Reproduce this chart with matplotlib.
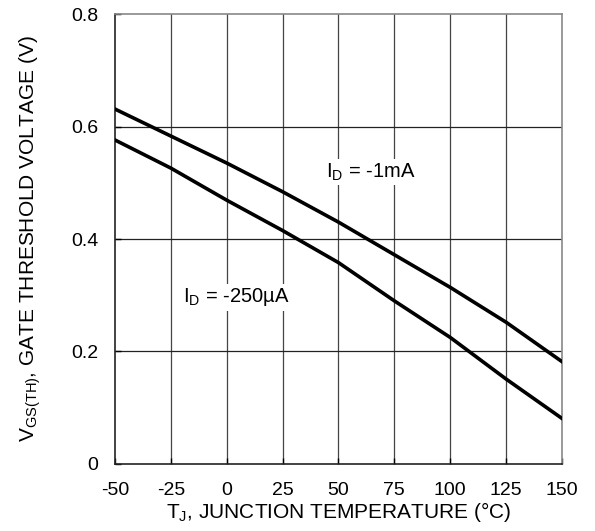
import numpy as np
import matplotlib.pyplot as plt

plt.rcParams['font.family'] = ['Liberation Sans', 'DejaVu Sans']
plt.rcParams['mathtext.fontset'] = 'custom'
plt.rcParams['mathtext.rm'] = 'Liberation Sans'
plt.rcParams['mathtext.it'] = 'Liberation Sans'
plt.rcParams['axes.unicode_minus'] = False

# junction temperature (C)
temp = [-50, -25, 0, 25, 50, 75, 100, 125, 150]
# threshold voltage (V)
vth_1ma = [0.631, 0.583, 0.535, 0.484, 0.430, 0.372, 0.314, 0.252, 0.182]
vth_250ua = [0.576, 0.526, 0.469, 0.415, 0.358, 0.290, 0.225, 0.151, 0.081]

xticks = [-50, -25, 0, 25, 50, 75, 100, 125, 150]
yticks = [0, 0.2, 0.4, 0.6, 0.8]
yticklabels = ["0", "0.2", "0.4", "0.6", "0.8"]

fig = plt.figure(figsize=(5.95, 5.31), dpi=100)
ax = fig.add_axes([0.1933, 0.1262, 0.7512, 0.8474])

for x in xticks[1:-1]:
    ax.axvline(x, color="#444444", lw=0.9, zorder=1)
for y in yticks[1:-1]:
    ax.axhline(y, color="#222222", lw=0.9, zorder=1)

ax.plot(temp, vth_1ma, color="black", lw=2.6, zorder=3, solid_joinstyle="round")
ax.plot(temp, vth_250ua, color="black", lw=2.6, zorder=3, solid_joinstyle="round")

box = dict(facecolor="white", edgecolor="none", pad=1.5)
ax.text(44.5, 0.519, r"I$_\mathrm{D}$ = -1mA", fontsize=14.5, va="center",
        ha="left", bbox=box, zorder=2)
ax.text(-19.5, 0.296, r"I$_\mathrm{D}$ = -250µA", fontsize=14.5, va="center",
        ha="left", bbox=box, zorder=2)

ax.set_xlim(-50, 150)
ax.set_ylim(0, 0.8)
ax.set_xticks(xticks)
ax.set_yticks(yticks)
ax.set_yticklabels(yticklabels)
ax.tick_params(direction="in", length=4, width=1, labelsize=14, pad=12)
ax.tick_params(axis="x", pad=13)

for side in ["left", "bottom"]:
    ax.spines[side].set_color("#222222")
    ax.spines[side].set_linewidth(1.2)
for side in ["top", "right"]:
    ax.spines[side].set_color("#888888")
    ax.spines[side].set_linewidth(1.2)

ax.set_xlabel(r"T$_\mathrm{J}$, JUNCTION TEMPERATURE (°C)", fontsize=15, labelpad=1)
ax.set_ylabel(r"V$_\mathrm{GS(TH)}$, GATE THRESHOLD VOLTAGE (V)", fontsize=15, labelpad=20)

fig.savefig("out.png", dpi=100)
